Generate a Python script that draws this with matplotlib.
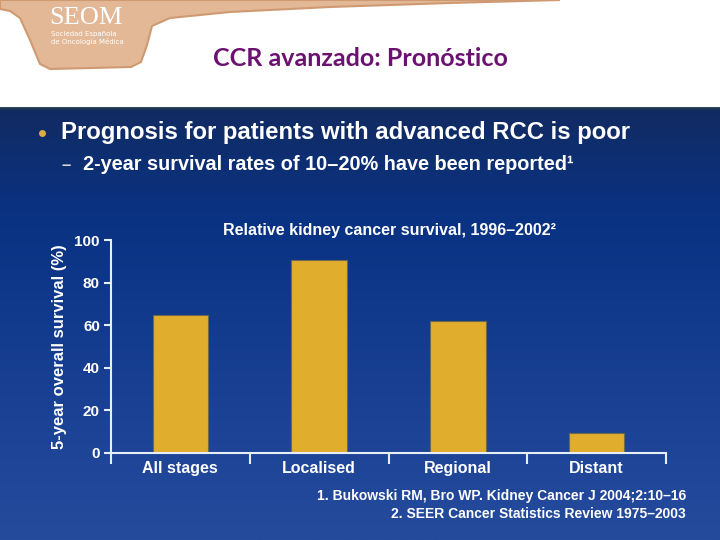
import numpy as np
import matplotlib.pyplot as plt
from matplotlib.colors import LinearSegmentedColormap
from matplotlib.patches import Polygon

categories = ['All stages', 'Localised', 'Regional', 'Distant']
survival = [65, 90.5, 62, 9.5]
yticks = [0, 20, 40, 60, 80, 100]

title = 'CCR avanzado: Pronóstico'
bullet = 'Prognosis for patients with advanced RCC is poor'
subbullet = '2-year survival rates of 10–20% have been reported¹'
chart_title = 'Relative kidney cancer survival, 1996–2002²'
ylabel = '5-year overall survival (%)'
refs = ['1. Bukowski RM, Bro WP. Kidney Cancer J 2004;2:10–16',
        '2. SEER Cancer Statistics Review 1975–2003']

bold = ['Liberation Sans', 'DejaVu Sans']

fig = plt.figure(figsize=(7.2, 5.4), dpi=100)

# background: white header + blue gradient slide
bg = fig.add_axes([0, 0, 1, 1])
bg.set_xlim(0, 720)
bg.set_ylim(540, 0)
bg.axis('off')
bg.add_patch(plt.Rectangle((0, 0), 720, 108, color='white', zorder=0))
cmap = LinearSegmentedColormap.from_list(
    'slide', ['#112b62', '#0a3283', '#123a8d', '#1c4396', '#254b9d'])
grad = np.linspace(0, 1, 256).reshape(-1, 1)
bg.imshow(grad, cmap=cmap, aspect='auto', extent=[0, 720, 540, 108], zorder=1)
bg.plot([0, 720], [108, 108], color='#1d3550', lw=2, zorder=2)

# SEOM tab
tab = [(0, 0), (560, 0), (450, 3), (330, 7), (230, 12), (170, 18), (152, 26),
       (147, 45), (141, 62), (131, 67), (50, 69), (40, 64), (30, 40),
       (20, 18), (10, 11), (0, 9)]
bg.add_patch(Polygon(tab, closed=True, facecolor='#e2b897', edgecolor='#cf9a72',
                     lw=1.5, zorder=3))
bg.text(49, 18, 'SEOM', family=['Liberation Serif', 'DejaVu Serif'],
        fontsize=19, color='white', va='center', ha='left', zorder=4)
bg.text(51, 38, 'Sociedad Española\nde Oncología Médica', fontsize=5,
        color='white', va='center', ha='left', linespacing=1.1, zorder=4)

bg.text(360, 58, title, family=['Lato', 'DejaVu Sans'], fontweight='bold',
        fontsize=18, color='#6b1170', ha='center', va='center', zorder=4)

bg.plot(42, 133, 'o', color='#d9ae46', ms=4, zorder=4)
bg.text(61, 133, bullet, family=bold, fontweight='bold', fontsize=17.2,
        color='white', ha='left', va='center', zorder=4)
bg.text(61, 165, '–', family=bold, fontweight='bold', fontsize=12,
        color='#d9d9d9', ha='left', va='center', zorder=4)
bg.text(83, 165, subbullet, family=bold, fontweight='bold', fontsize=14.3,
        color='white', ha='left', va='center', zorder=4)
bg.text(223, 231, chart_title, family=bold, fontweight='bold', fontsize=11.5,
        color='white', ha='left', va='center', zorder=4)
bg.text(686, 496, refs[0], family=bold, fontweight='bold', fontsize=10,
        color='white', ha='right', va='center', zorder=4)
bg.text(686, 514, refs[1], family=bold, fontweight='bold', fontsize=10,
        color='white', ha='right', va='center', zorder=4)

# bar chart
ax = fig.add_axes([111 / 720, 87 / 540, 555 / 720, 213 / 540])
ax.patch.set_alpha(0)
x = np.arange(len(categories))
ax.bar(x, survival, width=0.4, color='#e1ad2d', edgecolor='#6b6a4e', lw=0.8)
ax.set_xlim(-0.5, len(categories) - 0.5)
ax.set_ylim(0, 100)
ax.set_yticks(yticks)
ax.set_yticklabels([str(v) for v in yticks], family=bold, fontweight='bold',
                   fontsize=11, color='white')
ax.set_xticks(np.arange(len(categories) + 1) - 0.5)
ax.set_xticklabels([])
ax.set_xticks(x, minor=True)
ax.set_xticklabels(categories, minor=True, family=bold, fontweight='bold',
                   fontsize=11.5, color='white')
ax.tick_params(axis='x', which='major', length=8, width=1.5, color='#e8eef8',
               direction='out')
ax.tick_params(axis='x', which='minor', length=0, pad=6)
ax.tick_params(axis='y', length=5, width=1.5, color='#e8eef8', pad=3)
for s in ['top', 'right']:
    ax.spines[s].set_visible(False)
for s in ['left', 'bottom']:
    ax.spines[s].set_color('#e8eef8')
    ax.spines[s].set_linewidth(1.5)
ax.set_ylabel(ylabel, family=bold, fontweight='bold', fontsize=12,
              color='white', labelpad=5)

fig.savefig('out.png', dpi=100)
